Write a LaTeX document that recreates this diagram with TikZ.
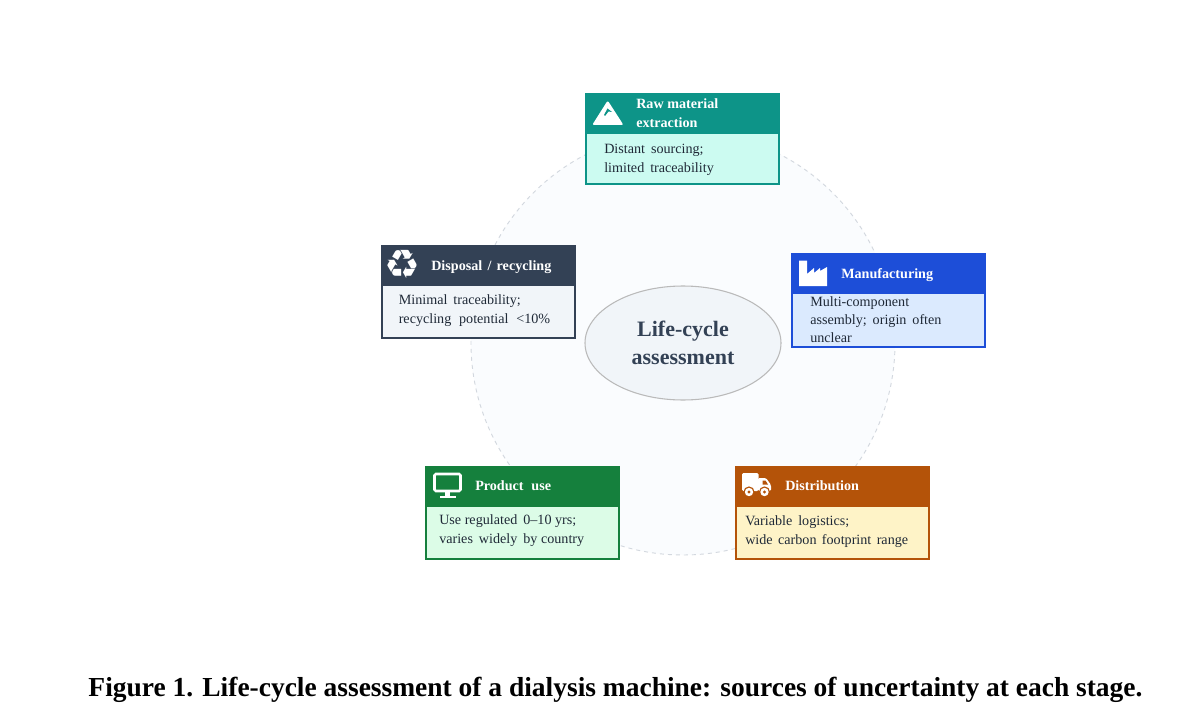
\documentclass[tikz,border=0pt]{standalone}
\usepackage{fontspec}
\usetikzlibrary{shapes.geometric}
\setmainfont{Liberation Serif}
\newfontfamily\iconfont{DejaVu Sans}
\newcommand{\ws}{\hspace{0.42em}}
\tikzset{
  x=0.75pt,y=-0.75pt,
  bodybox/.style={draw=#1,line width=1.5pt,anchor=north west,inner sep=0pt,outer sep=0pt,minimum width=144.75pt},
  headbox/.style={fill=#1,draw=#1,line width=1.5pt,anchor=north west,inner sep=0pt,outer sep=0pt,minimum width=144.75pt,minimum height=29pt},
  headtxt/.style={anchor=base west,inner sep=0pt,text=white,font=\bfseries\fontsize{10.6}{12}\selectfont},
  bodytxt/.style={anchor=base west,inner sep=0pt,text=#1,font=\fontsize{10.6}{12}\selectfont},
  icon/.style={fill=white,draw=none},
}
\definecolor{tealH}{HTML}{0D9488}\definecolor{tealB}{HTML}{CCFBF1}
\definecolor{blueH}{HTML}{1D4ED8}\definecolor{blueB}{HTML}{DBEAFE}
\definecolor{slateH}{HTML}{334155}\definecolor{slateB}{HTML}{F1F5F9}
\definecolor{greenH}{HTML}{15803D}\definecolor{greenB}{HTML}{DCFCE7}
\definecolor{amberH}{HTML}{B45309}\definecolor{amberB}{HTML}{FEF3C7}
\definecolor{ink}{HTML}{1F2937}
\definecolor{ringline}{HTML}{D3D8DF}\definecolor{ringfill}{HTML}{FAFCFE}
\begin{document}
\begin{tikzpicture}
\path[use as bounding box,fill=white] (0,0) rectangle (1200,717);
% ring
\node (ring) at (683,343) [circle,minimum size=318pt,inner sep=0pt,fill=ringfill,draw=ringline,line width=0.7pt,dashed] {};
% centre
\node (centre) at (683,343) [ellipse,minimum width=147pt,minimum height=85.5pt,inner sep=0pt,fill=slateB,draw=black!27,line width=0.8pt,align=center,text=slateH,font=\bfseries\fontsize{16.5}{20.5}\selectfont] {Life-cycle\\assessment};
% raw
\node[bodybox=tealH,fill=tealB,minimum height=67.5pt] (rawbody) at (586,94) {};
\node[headbox=tealH] (rawhead) at (586,94) {};
\node[headtxt] (rawt1) at (636,108.5) {Raw material};
\node[headtxt] (rawt2) at (636,127.5) {extraction};
\node[bodytxt=ink] (rawb1) at (604,153) {Distant\ws sourcing;};
\node[bodytxt=ink] (rawb2) at (604,172) {limited\ws traceability};
\fill[icon,rounded corners=1.5pt] (607.7,100.5) -- (623.5,125) -- (592.2,125) -- cycle;
\fill[tealH] (607.5,108.5) -- (612,112) -- (608.5,111.5) -- (605,116) -- (604,115) -- cycle;
% manufacturing
\node[bodybox=blueH,fill=blueB,minimum height=69.75pt] (mfgbody) at (792,254) {};
\node[headbox=blueH] (mfghead) at (792,254) {};
\node[headtxt] (mfgt) at (841,278) {Manufacturing};
\node[bodytxt=ink] (mfgb1) at (810,306) {Multi-component};
\node[bodytxt=ink] (mfgb2) at (810,324) {assembly;\ws origin\ws often};
\node[bodytxt=ink] (mfgb3) at (810,342) {unclear};
\fill[icon] (799,260.5) -- (807,260.5) -- (807,274) -- (814,268) -- (814,273) -- (820,268) -- (820,271) -- (827,267) -- (827,286) -- (799,286) -- cycle;
% disposal
\node[bodybox=slateH,fill=slateB,minimum height=69pt] (dispbody) at (382,246) {};
\node[headbox=slateH] (disphead) at (382,246) {};
\node[headtxt] (dispt) at (431,270) {Disposal\hspace{0.12em} /\hspace{0.12em} recycling};
\node[bodytxt=ink] (dispb1) at (398.5,304) {Minimal\ws traceability;};
\node[bodytxt=ink] (dispb2) at (398.5,323) {recycling\hspace{0.55em}potential\hspace{0.55em}<10\%};
\node (dispicon) at (402,264) [inner sep=0pt,text=white,font=\iconfont\fontsize{30}{30}\selectfont] {♻};
% product
\node[bodybox=greenH,fill=greenB,minimum height=69pt] (prodbody) at (426,467) {};
\node[headbox=greenH] (prodhead) at (426,467) {};
\node[headtxt] (prodt) at (475,490) {Product\hspace{0.55em}use};
\node[bodytxt=ink] (prodb1) at (439,524) {Use regulated\ws 0–10 yrs;};
\node[bodytxt=ink] (prodb2) at (439,543) {varies\ws widely\ws by country};
\draw[white,line width=1.9pt,rounded corners=1pt] (434.5,474) rectangle (460.5,491);
\fill[icon] (445,491) rectangle (450,496);
\fill[icon] (439.5,495.5) rectangle (456,498);
% distribution
\node[bodybox=amberH,fill=amberB,minimum height=69pt] (distbody) at (736,467) {};
\node[headbox=amberH] (disthead) at (736,467) {};
\node[headtxt] (distt) at (785,490) {Distribution};
\node[bodytxt=ink] (distb1) at (745,525) {Variable\ws logistics;};
\node[bodytxt=ink] (distb2) at (745,544) {wide\hspace{0.38em}carbon\hspace{0.38em}footprint\hspace{0.38em}range};
\fill[icon,rounded corners=1pt] (742,473) rectangle (758.5,491);
\fill[icon,rounded corners=1pt] (758,478) -- (766,478) -- (771,485) -- (771,491) -- (758,491) -- cycle;
\fill[amberH] (762.5,480.5) -- (765.5,480.5) -- (768,484.5) -- (762.5,484.5) -- cycle;
\fill[amberH] (749,492) circle[radius=5.6] (764.5,492) circle[radius=5.6];
\fill[icon] (749,492) circle[radius=4.2] (764.5,492) circle[radius=4.2];
\fill[amberH] (749,492) circle[radius=1.6] (764.5,492) circle[radius=1.6];
% caption
\node (caption) at (615.5,696) [anchor=base,inner sep=0pt,text=black,font=\bfseries\fontsize{20.6}{24}\selectfont] {Figure 1. Life-cycle assessment of a dialysis machine: sources of uncertainty at each stage.};
\end{tikzpicture}
\end{document}
